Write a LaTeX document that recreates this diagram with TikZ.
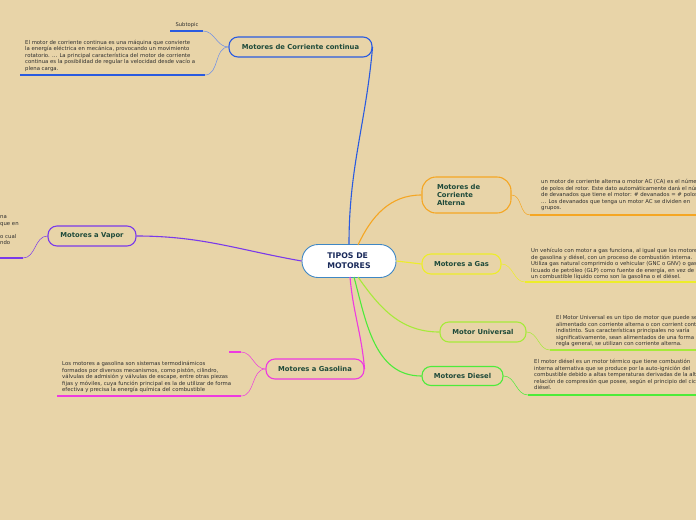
\documentclass[tikz,border=0pt]{standalone}
\usepackage{fontspec}
\setmainfont{DejaVu Sans}
\setsansfont{DejaVu Sans}
\definecolor{bg}{HTML}{E8D4A8}
\definecolor{labelc}{HTML}{1E4A3A}
\definecolor{navy}{HTML}{1A2A5A}
\definecolor{bodyc}{HTML}{2E2E2E}
\definecolor{centerc}{HTML}{3F87C4}
\definecolor{cblue}{HTML}{2A5BE0}
\definecolor{corange}{HTML}{F5A623}
\definecolor{cyellow}{HTML}{EDED2A}
\definecolor{clime}{HTML}{A6EA3A}
\definecolor{cgreen}{HTML}{4DEB3A}
\definecolor{cpurple}{HTML}{7A3AEA}
\definecolor{cmagenta}{HTML}{EE3AE0}
\begin{document}
\begin{tikzpicture}[x=1pt,y=-1pt,
  topic/.style={draw, line width=1.1pt, rounded corners=9pt, fill=bg, text=labelc,
    font=\fontsize{6.8}{8}\selectfont\bfseries, minimum height=20pt, inner sep=0pt},
  body/.style={font=\fontsize{5.35}{6.45}\selectfont, text=bodyc, align=left, anchor=north west, inner sep=0pt},
  uline/.style={line width=1.3pt},
  branch/.style={line width=0.5pt},
  mainline/.style={line width=1.1pt}]
\fill[bg] (0,0) rectangle (696,520);
\useasboundingbox (0,0) rectangle (696,520);
\clip (0,0) rectangle (696,520);

% central node
\node[draw=centerc, fill=white, line width=0.9pt, rounded corners=16pt, minimum width=94pt,
  minimum height=33pt, font=\fontsize{7.8}{10}\selectfont\bfseries, text=navy, align=left] (c) at (349,261) {TIPOS DE\\MOTORES};

% topics
\node[topic, draw=cblue, minimum width=143pt] (cc) at (300.5,47) {Motores de Corriente continua};
\node[topic, draw=corange, minimum width=89pt, minimum height=36pt, rounded corners=14pt, text width=59pt, align=left] (ca) at (466.5,195) {Motores de\\Corriente\\Alterna};
\node[topic, draw=cyellow, minimum width=79pt] (gas) at (461.5,264) {Motores a Gas};
\node[topic, draw=clime, minimum width=86pt] (uni) at (483,332) {Motor Universal};
\node[topic, draw=cgreen, minimum width=81pt, minimum height=19pt] (die) at (462.5,376) {Motores Diesel};
\node[topic, draw=cpurple, minimum width=88pt] (vap) at (92,236) {Motores a Vapor};
\node[topic, draw=cmagenta, minimum width=98pt] (gso) at (315,369) {Motores a Gasolina};

% main connectors
\draw[mainline, cblue] (c.north) to[out=90,in=-95] (cc.east);
\draw[mainline, corange] (358,245) to[out=65,in=180] (ca.west);
\draw[mainline, cyellow] (c.east) -- (gas.west);
\draw[mainline, clime] (358,277) to[out=-55,in=180] (uni.west);
\draw[mainline, cgreen] (354,277) to[out=-75,in=180] (die.west);
\draw[mainline, cpurple] (c.west) to[out=170,in=0] (vap.east);
\draw[mainline, cmagenta] (350,277) to[out=-85,in=95] (gso.east);

% underline coordinates
\coordinate (st1) at (170,31); \coordinate (st2) at (203,31);
\coordinate (cu1) at (20,75); \coordinate (cu2) at (205,75);
\coordinate (au1) at (530,215); \coordinate (au2) at (696,215);
\coordinate (gu1) at (525,282); \coordinate (gu2) at (696,282);
\coordinate (uu1) at (550,350); \coordinate (uu2) at (696,350);
\coordinate (du1) at (528,395); \coordinate (du2) at (696,395);
\coordinate (su1) at (57,396); \coordinate (su2) at (241,396);
\coordinate (se1) at (229,352); \coordinate (se2) at (241,352);
\coordinate (vu1) at (0,258); \coordinate (vu2) at (23,258);

% underlines
\draw[uline, cblue] (st1) -- (st2);
\draw[uline, cblue] (cu1) -- (cu2);
\draw[uline, corange] (au1) -- (au2);
\draw[uline, cyellow] (gu1) -- (gu2);
\draw[uline, clime] (uu1) -- (uu2);
\draw[uline, cgreen] (du1) -- (du2);
\draw[uline, cmagenta] (su1) -- (su2);
\draw[uline, cmagenta] (se1) -- (se2);
\draw[uline, cpurple] (vu1) -- (vu2);

% branches
\draw[branch, cblue!70] (cc.west) to[out=180,in=0] (st2);
\draw[branch, cblue!70] (cc.west) to[out=180,in=0] (cu2);
\draw[branch, corange] (ca.east) to[out=0,in=180] (au1);
\draw[branch, cyellow] (gas.east) to[out=0,in=180] (gu1);
\draw[branch, clime] (uni.east) to[out=0,in=180] (uu1);
\draw[branch, cgreen] (die.east) to[out=0,in=180] (du1);
\draw[branch, cmagenta] (gso.west) to[out=180,in=0] (se2);
\draw[branch, cmagenta] (gso.west) to[out=180,in=0] (su2);
\draw[branch, cpurple] (vap.west) to[out=180,in=0] (vu2);

% texts
\node[font=\fontsize{5.2}{6}\selectfont, text=bodyc, inner sep=0pt] (sub) at (187,25) {Subtopic};
\node[body] (tcc) at (25,40) {El motor de corriente continua es una máquina que convierte\\la energía eléctrica en mecánica, provocando un movimiento\\rotatorio. ... La principal característica del motor de corriente\\continua es la posibilidad de regular la velocidad desde vacío a\\plena carga.};
\node[body] (tca) at (541,179.5) {un motor de corriente alterna o motor AC (CA) es el número\\de polos del rotor. Este dato automáticamente dará el número\\de devanados que tiene el motor: \# devanados = \# polos\\... Los devanados que tenga un motor AC se dividen en\\grupos.};
\node[body] (tgas) at (531,248.5) {Un vehículo con motor a gas funciona, al igual que los motores\\de gasolina y diésel, con un proceso de combustión interna.\\Utiliza gas natural comprimido o vehicular (GNC o GNV) o gas\\licuado de petróleo (GLP) como fuente de energía, en vez de\\un combustible líquido como son la gasolina o el diésel.};
\node[body] (tuni) at (556,315.5) {El Motor Universal es un tipo de motor que puede ser\\alimentado con corriente alterna o con corrient continua\\indistinto. Sus características principales no varía\\significativamente, sean alimentados de una forma u otra. Por\\regla general, se utilizan con corriente alterna.};
\node[body] (tdie) at (534,359.5) {El motor diésel es un motor térmico que tiene combustión\\interna alternativa que se produce por la auto-ignición del\\combustible debido a altas temperaturas derivadas de la alta\\relación de compresión que posee, según el principio del ciclo\\diésel.};
\node[body] (tgso) at (62,361.5) {Los motores a gasolina son sistemas termodinámicos\\formados por diversos mecanismos, como pistón, cilindro,\\válvulas de admisión y válvulas de escape, entre otras piezas\\fijas y móviles, cuya función principal es la de utilizar de forma\\efectiva y precisa la energía química del combustible};
\node[body] (tvap) at (0,215.5) {na\\que en\\\mbox{}\\o cual\\ndo};
\end{tikzpicture}
\end{document}
